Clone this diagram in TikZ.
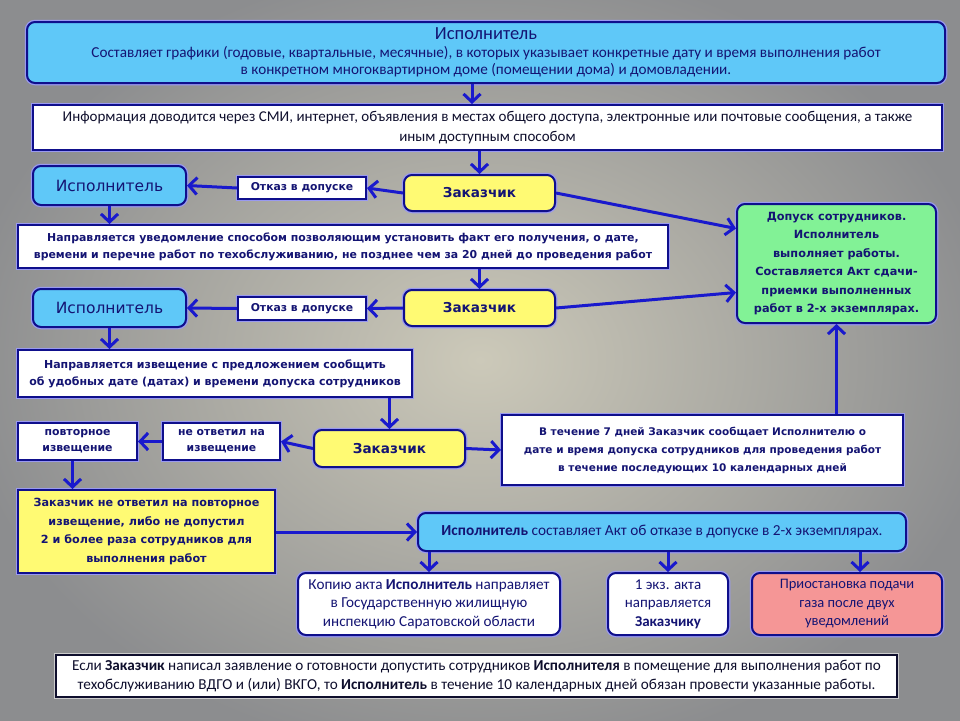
\documentclass[tikz,border=0pt]{standalone}
\usepackage{fontspec}
\setmainfont{Carlito}
\newfontfamily\tah{DejaVu Sans}
\usetikzlibrary{arrows.meta,calc}
\definecolor{navy}{RGB}{20,20,115}
\definecolor{ink}{RGB}{15,15,45}
\definecolor{bord}{RGB}{15,15,140}
\definecolor{glow}{RGB}{110,110,235}
\definecolor{arrc}{RGB}{25,25,205}
\definecolor{lblue}{RGB}{95,200,248}
\definecolor{lyel}{RGB}{255,250,115}
\definecolor{lgreen}{RGB}{130,242,150}
\definecolor{lpink}{RGB}{245,150,150}
\definecolor{bgin}{RGB}{204,201,185}
\definecolor{bgout}{RGB}{140,141,143}
\begin{document}
\begin{tikzpicture}[x=1pt,y=-1pt,
  base/.style={draw=bord,line width=2pt,preaction={draw=glow!70,line width=4.5pt},
    align=center,text=navy,inner sep=1pt},
  rbox/.style={base,rounded corners=8pt},
  sbox/.style={base},
  wbox/.style={sbox,fill=white},
  zakbox/.style={rbox,fill=lyel,minimum width=151,font=\tah\bfseries\fontsize{13.6}{16}\selectfont},
  ispbox/.style={rbox,fill=lblue,minimum width=153,font=\tah\fontsize{15.5}{17}\selectfont},
  otkbox/.style={wbox,minimum width=128,font=\tah\bfseries\fontsize{10.8}{12}\selectfont},
  arr/.style={draw=arrc,line width=3pt,-{Straight Barb[length=8pt,width=17pt]}}]
\useasboundingbox (0,0) rectangle (960,720);
\shade[inner color=bgin,outer color=bgout] (-40,-40) rectangle (1000,760);

% top
\node[rbox,fill=lblue,minimum width=918,minimum height=61,font=\fontsize{15.2}{17.5}\selectfont] (top) at (486,52.5)
  {{\fontsize{18.5}{19}\selectfont Исполнитель}\\
   Составляет графики (годовые, квартальные, месячные), в которых указывает конкретные дату и время выполнения работ\\
   в конкретном многоквартирном доме (помещении дома) и домовладении.};
\node[wbox,text=ink,minimum width=909,minimum height=45,font=\fontsize{15}{20}\selectfont] (info) at (487.5,127.5)
  {Информация доводится через СМИ, интернет, объявления в местах общего доступа, электронные или почтовые сообщения, а также\\
   иным доступным способом};

% row 1
\node[ispbox,minimum height=39] (isp1) at (109.5,185.5) {Исполнитель};
\node[otkbox,minimum height=22] (otk1) at (302,188) {Отказ в допуске};
\node[zakbox,minimum height=36] (zak1) at (479.5,193) {Заказчик};
\node[wbox,minimum width=650,minimum height=43,font=\tah\bfseries\fontsize{10.9}{17}\selectfont] (note1) at (343,246.5)
  {Направляется уведомление способом позволяющим установить факт его получения, о дате,\\
   времени и перечне работ по техобслуживанию, не позднее чем за 20 дней до проведения работ};

% row 2
\node[ispbox,minimum height=38] (isp2) at (109.5,308) {Исполнитель};
\node[otkbox,minimum height=23] (otk2) at (302,308.5) {Отказ в допуске};
\node[zakbox,minimum height=36] (zak2) at (479.5,308) {Заказчик};

\node[rbox,fill=lgreen,minimum width=199,minimum height=119,font=\tah\bfseries\fontsize{11.3}{18.5}\selectfont] (dop) at (836.5,263.5)
  {Допуск сотрудников.\\ Исполнитель\\ выполняет работы.\\ Составляется Акт сдачи-\\ приемки выполненных\\ работ в 2-х экземплярах.};

\node[wbox,minimum width=394,minimum height=47,font=\tah\bfseries\fontsize{11}{17}\selectfont] (note2) at (215,373.5)
  {Направляется извещение с предложением сообщить\\ об удобных дате (датах) и времени допуска сотрудников};

% row 3
\node[wbox,minimum width=119,minimum height=37,font=\tah\bfseries\fontsize{10.9}{16}\selectfont] (pov) at (77.5,441.5) {повторное\\ извещение};
\node[wbox,minimum width=117,minimum height=37,font=\tah\bfseries\fontsize{10.8}{16}\selectfont] (neot) at (221.5,441.5) {не ответил на\\ извещение};
\node[zakbox,minimum height=37] (zak3) at (389.5,448.5) {Заказчик};
\node[wbox,minimum width=401,minimum height=70,font=\tah\bfseries\fontsize{10.5}{18}\selectfont] (vtech) at (702.5,450)
  {В течение 7 дней Заказчик сообщает Исполнителю о\\ дате и время допуска сотрудников для проведения работ\\ в течение последующих 10 календарных дней};

% row 4
\node[wbox,fill=lyel,minimum width=257,minimum height=83,font=\tah\bfseries\fontsize{11.2}{18.5}\selectfont] (yel) at (146.5,531.5)
  {Заказчик не ответил на повторное\\ извещение, либо не допустил\\ 2 и более раза сотрудников для\\ выполнения работ};
\node[rbox,fill=lblue,minimum width=488,minimum height=38,font=\fontsize{15.3}{17}\selectfont] (akt) at (662,532)
  {\textbf{Исполнитель} составляет Акт об отказе в допуске в 2-х экземплярах.};

% row 5
\node[rbox,fill=white,minimum width=262,minimum height=62,font=\fontsize{15.2}{18.5}\selectfont] (kop) at (429,604)
  {Копию акта \textbf{Исполнитель} направляет\\ в Государственную жилищную\\ инспекцию Саратовской области};
\node[rbox,fill=white,minimum width=120,minimum height=62,font=\fontsize{15}{18.5}\selectfont] (ekz) at (668,604)
  {1 экз. акта\\ направляется\\ \textbf{Заказчику}};
\node[rbox,fill=lpink,minimum width=190,minimum height=62,font=\fontsize{14.5}{18.5}\selectfont] (pri) at (847,604)
  {Приостановка подачи\\ газа после двух\\ уведомлений};

% bottom
\node[sbox,draw=ink,preaction={draw=white!60!gray,line width=4pt},fill=white,text=ink,minimum width=841,minimum height=42,font=\fontsize{15.2}{19}\selectfont] (bot) at (476.5,676)
  {Если \textbf{Заказчик} написал заявление о готовности допустить сотрудников \textbf{Исполнителя} в помещение для выполнения работ по\\
   техобслуживанию ВДГО и (или) ВКГО, то \textbf{Исполнитель} в течение 10 календарных дней обязан провести указанные работы.};

% connectors
\draw[arr] ([xshift=-14pt]top.south) -- ([xshift=-14pt]top.south |- info.north);
\draw[arr] (info.south -| zak1.north) -- (zak1.north);
\draw[arr] (zak1.west) -- (otk1.east);
\draw[arr] (otk1.west) -- (isp1.east);
\draw[arr] (zak1.east) -- ([yshift=35pt]dop.west);
\draw[arr] (isp1.south) -- (isp1.south |- note1.north);
\draw[arr] (zak2.north |- note1.south) -- (zak2.north);
\draw[arr] (zak2.west) -- (otk2.east);
\draw[arr] (otk2.west) -- (isp2.east);
\draw[arr] (zak2.east) -- ([yshift=-29pt]dop.west);
\draw[arr] (isp2.south) -- (isp2.south |- note2.north);
\draw[arr] (zak3.north |- note2.south) -- (zak3.north);
\draw[arr] (zak3.west) -- (neot.east);
\draw[arr] (neot.west) -- (pov.east);
\draw[arr] (zak3.east) -- (vtech.west);
\draw[arr] (vtech.north -| dop.south) -- (dop.south);
\draw[arr] ([xshift=-5pt]pov.south) -- ([xshift=-5pt]pov.south |- yel.north);
\draw[arr] (yel.east |- akt.west) -- (akt.west);
\draw[arr] (akt.south -| kop.north) -- (kop.north);
\draw[arr] (akt.south -| ekz.north) -- (ekz.north);
\draw[arr] ([xshift=13pt]akt.south -| pri.north) -- ([xshift=13pt]pri.north);
\end{tikzpicture}
\end{document}
